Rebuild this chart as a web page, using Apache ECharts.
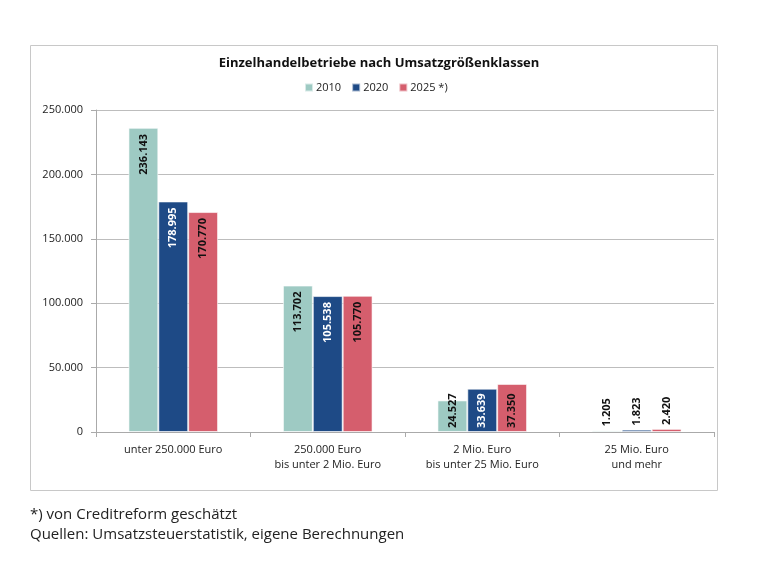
<!DOCTYPE html>
<html>
<head>
<meta charset="utf-8">
<script src="https://cdn.jsdelivr.net/npm/echarts@6/dist/echarts.min.js"></script>
<style>
  html, body { margin: 0; padding: 0; background: #fff; }
  #chart { width: 768px; height: 580px; }
</style>
</head>
<body>
<div id="chart"></div>
<script>
var categories = ['unter 250.000 Euro', '250.000 Euro\nbis unter 2 Mio. Euro', '2 Mio. Euro\nbis unter 25 Mio. Euro', '25 Mio. Euro\nund mehr'];
var seriesNames = ['2010', '2020', '2025 *)'];
var values2010 = [236143, 113702, 24527, 1205];
var values2020 = [178995, 105538, 33639, 1823];
var values2025 = [170770, 105770, 37350, 2420];
var colors = ['#9ecac3', '#1e4a86', '#d55e6d'];
var labelColors = ['#111', '#fff', '#111'];

var font = '"Open Sans", "Noto Sans", sans-serif';

function fmt(v) {
	return String(v).replace(/\B(?=(\d{3})+(?!\d))/g, '.');
}

function makeSeries(name, values, idx) {
	return {
		name: name,
		type: 'bar',
		barGap: 0,
		barCategoryGap: '42%',
		itemStyle: { color: colors[idx], borderColor: 'rgba(255,255,255,0.6)', borderWidth: 1 },
		data: values.map(function (v) {
			// kleine Balken: Beschriftung oberhalb
			if (v < 10000) {
				return { value: v, label: { position: 'top', align: 'left', color: '#111', distance: 4 } };
			}
			// mittlere Balken: Beschriftung vom Fuß aus
			if (v < 50000) {
				return { value: v, label: { position: 'insideBottom', align: 'left', distance: 4 } };
			}
			return v;
		}),
		label: {
			show: true,
			rotate: 90,
			position: 'insideTop',
			align: 'right',
			verticalAlign: 'middle',
			distance: 6,
			color: labelColors[idx],
			fontFamily: font,
			fontWeight: 'bold',
			fontSize: 11,
			formatter: function (p) { return fmt(p.value); }
		}
	};
}

var chart = echarts.init(document.getElementById('chart'));
chart.setOption({
	animation: false,
	title: {
		text: 'Einzelhandelbetriebe nach Umsatzgrößenklassen',
		left: 374, top: 52, textAlign: 'center',
		textStyle: { fontFamily: font, fontSize: 13, fontWeight: 'bold', color: '#111' }
	},
	legend: {
		top: 77, left: 299,
		itemWidth: 8, itemHeight: 8, itemGap: 10,
		icon: 'rect',
		textStyle: { fontFamily: font, fontSize: 11, color: '#222', padding: [0, 0, 0, -2] },
		data: seriesNames
	},
	grid: { left: 96, right: 54, top: 110, bottom: 148 },
	xAxis: {
		type: 'category',
		data: categories,
		axisLine: { lineStyle: { color: '#aaa' } },
		axisTick: { show: true, length: 5, lineStyle: { color: '#aaa' } },
		axisLabel: { fontFamily: font, fontSize: 11, color: '#222', lineHeight: 15, margin: 10 }
	},
	yAxis: {
		type: 'value',
		min: 0, max: 250000, interval: 50000,
		axisLine: { show: true, lineStyle: { color: '#aaa' } },
		axisTick: { show: true, length: 5, lineStyle: { color: '#aaa' } },
		splitLine: { lineStyle: { color: '#bdbdbd' } },
		axisLabel: { fontFamily: font, fontSize: 11, color: '#222', margin: 13, formatter: fmt }
	},
	series: [
		makeSeries(seriesNames[0], values2010, 0),
		makeSeries(seriesNames[1], values2020, 1),
		makeSeries(seriesNames[2], values2025, 2)
	],
	graphic: [
		{ type: 'rect', shape: { x: 30.5, y: 45.5, width: 687, height: 445 }, style: { fill: 'none', stroke: '#c8c8c8', lineWidth: 1 }, silent: true, z: -1 },
		{ type: 'text', left: 30, top: 507, style: { text: '*) von Creditreform geschätzt', fontFamily: font, fontSize: 15, fill: '#222' } },
		{ type: 'text', left: 30, top: 527, style: { text: 'Quellen: Umsatzsteuerstatistik, eigene Berechnungen', fontFamily: font, fontSize: 15, fill: '#222' } }
	]
});
</script>
</body>
</html>
